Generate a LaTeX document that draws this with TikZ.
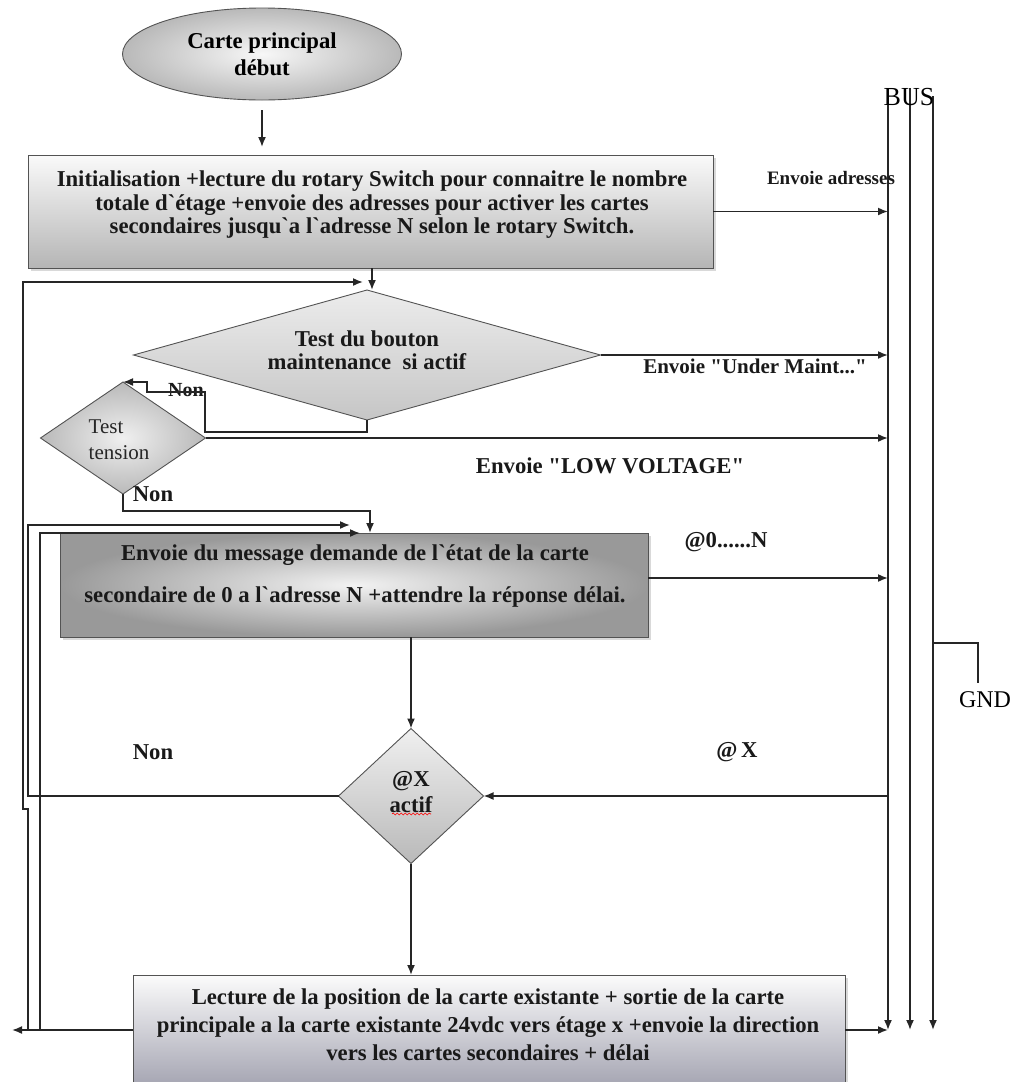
\documentclass[tikz,border=0pt]{standalone}
\usepackage{fontspec}
\setmainfont{Liberation Serif}
\newfontfamily\rawserif{Liberation Serif}
\usetikzlibrary{shapes.geometric,arrows.meta,shadows,decorations.pathmorphing}
\begin{document}
\begin{tikzpicture}[x=1pt,y=-1pt,
  line/.style={line width=1.6pt, draw=black!85},
  arr/.style={line, -{Latex[length=10pt,width=8pt]}},
  edge/.style={draw=gray!65!black, line width=0.9pt, outer sep=0pt, inner sep=0pt},
  soft/.style={drop shadow={shadow xshift=3pt, shadow yshift=-3pt, opacity=0.3, fill=gray}},
  bt/.style={font=\rawserif\fontsize{22.7}{23.5}\selectfont\bfseries, inner sep=0pt, align=center, text=black!90},
  lbl/.style={font=\rawserif\fontsize{22.7}{24}\selectfont\bfseries, inner sep=0pt, text=black!90},
  reg/.style={font=\rawserif\fontsize{21}{26}\selectfont, inner sep=0pt, text=black!85}
]
\useasboundingbox (0,0) rectangle (1016,1082);

% ---------- bus ----------
\coordinate (b1t) at (888,88);  \coordinate (b1b) at (888,1030);
\coordinate (b2t) at (910,88);  \coordinate (b2b) at (910,1030);
\coordinate (b3t) at (933,96);  \coordinate (b3b) at (933,1030);
\draw[arr] (b1t) -- (b1b);
\draw[arr] (b2t) -- (b2b);
\draw[arr] (b3t) -- (b3b);
\node[font=\rawserif\fontsize{26}{26}\selectfont, inner sep=0pt] (bus) at (909,97) {BUS};
\coordinate (gndc) at (978,683);
\draw[line] (b3t |- 0,643) -| (gndc);
\node[font=\rawserif\fontsize{24}{24}\selectfont, inner sep=0pt] (gnd) at (985,700) {GND};

% ---------- shapes ----------
\node[ellipse, edge, minimum width=279pt, minimum height=92pt,
      inner color=gray!6, outer color=gray!55,
      font=\rawserif\fontsize{22.7}{27}\selectfont\bfseries, align=center] (start) at (262,54)
      {Carte principal\\début};

\node[rectangle, edge, soft, minimum width=685pt, minimum height=113pt,
      top color=gray!4, bottom color=gray!58] (init) at (370.5,211.5) {};
\node[bt] (initt) at (372,205)
  {Initialisation +lecture du rotary Switch pour connaitre le nombre\\
   totale d`étage +envoie des adresses pour activer les cartes\\
   secondaires jusqu`a l`adresse N selon le rotary Switch.};

\node[diamond, edge, minimum width=467pt, minimum height=130pt,
      top color=gray!15, bottom color=gray!45] (maint) at (367,355) {};
\node[bt] (maintt) at (367,350) {Test du bouton\\maintenance\ \ si actif};

\node[diamond, edge, minimum width=165pt, minimum height=112pt,
      inner color=gray!12, outer color=gray!55] (tens) at (123,438) {};
\node[reg, align=left] (tenst) at (119,440) {Test\\tension};

\node[rectangle, edge, soft, minimum width=588pt, minimum height=104pt,
      inner color=gray!10, outer color=gray!80] (req) at (354,585) {};
\node[bt, font=\rawserif\fontsize{22.7}{42}\selectfont\bfseries] (reqt) at (355,576)
  {Envoie du message demande de l`état de la carte\\
   secondaire de 0 a l`adresse N +attendre la réponse délai.};

\node[diamond, edge, minimum width=145pt, minimum height=135pt,
      top color=gray!12, bottom color=gray!55] (actif) at (411,796) {};
\node[bt, font=\rawserif\fontsize{22.7}{26}\selectfont\bfseries] (actift) at (411,792) {@X\\actif};
\draw[red, line width=0.6pt, decorate, decoration={snake, amplitude=1pt, segment length=4pt}]
  (392,814) -- (431,814);

\node[rectangle, edge, soft, minimum width=712pt, minimum height=110pt,
      top color=gray!3, bottom color=blue!8!gray!65] (pos) at (489,1030) {};
\node[bt, font=\rawserif\fontsize{22.7}{28}\selectfont\bfseries] (post) at (488,1025)
  {Lecture de la position de la carte existante + sortie de la carte\\
   principale a la carte existante 24vdc vers étage x +envoie la direction\\
   vers les cartes secondaires + délai};

% ---------- labels ----------
\node[lbl, font=\rawserif\fontsize{19}{19}\selectfont\bfseries] (l1) at (831,178) {Envoie adresses};
\node[lbl, font=\rawserif\fontsize{21}{21}\selectfont\bfseries] (l2) at (755,366) {Envoie "Under Maint..."};
\node[lbl] (l3) at (610,466) {Envoie "LOW VOLTAGE"};
\node[lbl] (l4) at (726,542) {@0......N};
\node[lbl] (l5) at (737,752) {@\,X};
\node[lbl] (non1) at (153,752) {Non};
\node[lbl] (non2) at (153,494) {Non};
\node[lbl, font=\rawserif\fontsize{20}{20}\selectfont\bfseries] (non3) at (186,390) {Non};

% ---------- connectors ----------
\coordinate (xa) at (23,0);
\coordinate (xb) at (28,0);
\coordinate (xc) at (40,0);
\coordinate (exitL) at (12,1030);
\coordinate (inA) at (363,282);
\coordinate (inB) at (370,533);
\coordinate (inC) at (360,533);
\coordinate (inD) at (350,525);

\draw[arr, shorten <=10pt, shorten >=8pt] (start.south) -- (start.south |- init.north);
\draw[arr] (init.south -| 372,0) -- (maint.north -| 372,0);
\draw[arr] (init.east) -- (init.east -| b1t);
\draw[arr] (maint.east) -- (maint.east -| b1t);
\draw[arr] (tens.east) -- (tens.east -| b1t);
\draw[arr] ([yshift=7pt]req.east) -- ([yshift=7pt]req.east -| b1t);
\draw[arr] (pos.east) -- (pos.east -| b1t);
\draw[arr] (actif.east -| b1t) -- (actif.east);

\draw[arr] (maint.south) |- (205,432) |- (147,392) |- (tens.north);
\draw[arr] (tens.south) |- (0,511 -| inB) -- (inB);

\draw[arr] (actif.north |- req.south) -- (actif.north);
\draw[arr] (actif.south) -- (actif.south |- pos.north);

\draw[arr] (pos.west) -- (exitL);
\draw[arr] (pos.west -| xb) -- (28,809) -- (23,809) -- (xa |- inA) -- (inA);
\draw[arr] (pos.west -| xc) -- (xc |- inC) -- (inC);
\draw[arr] (actif.west) -- (actif.west -| xb) -- (xb |- inD) -- (inD);
\end{tikzpicture}
\end{document}
